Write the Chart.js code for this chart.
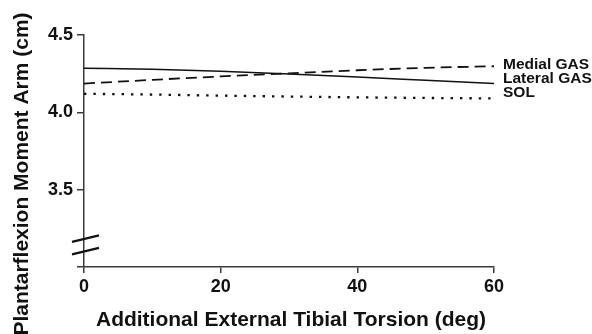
<!DOCTYPE html>
<html>
<head>
<meta charset="utf-8">
<script src="https://cdn.jsdelivr.net/npm/chart.js@4.4.1/dist/chart.umd.min.js"></script>
<style>
  body { margin: 0; background: #fff; }
  #wrap { width: 592px; height: 334px; }
</style>
</head>
<body>
<div id="wrap"><canvas id="myChart" width="592" height="334"></canvas></div>
<script>
const torsion = [0, 10, 20, 30, 40, 50, 60];
const medialGas = [4.186, 4.21, 4.232, 4.252, 4.272, 4.288, 4.298];
const lateralGas = [4.285, 4.278, 4.265, 4.248, 4.228, 4.207, 4.186];
const sol = [4.12, 4.115, 4.108, 4.102, 4.097, 4.093, 4.09];
const seriesNames = ["Medial GAS", "Lateral GAS", "SOL"];
const xTickValues = [0, 20, 40, 60];
const yTickValues = [3.5, 4.0, 4.5];

const ctx = document.getElementById("myChart").getContext("2d");
const FONT = "'Liberation Sans', Arial, sans-serif";
const INK = "#111";
const AXIS = "#3a3a3a";

const toPoints = (ys) => torsion.map((x, i) => ({ x: x, y: ys[i] }));

// axis titles, break mark and end labels
const extras = {
    id: "extras",
    afterDraw(chart) {
        const c = chart.ctx;
        const xs = chart.scales.x;
        const ys = chart.scales.y;
        c.save();

        // axis break on the y axis
        c.strokeStyle = INK;
        c.lineWidth = 2.2;
        [3.185, 3.104].forEach((v) => {
            const py = ys.getPixelForValue(v);
            c.beginPath();
            c.moveTo(xs.left - 12, py + 3.5);
            c.lineTo(xs.left + 15, py - 3);
            c.stroke();
        });

        // series names at the right end of each line
        c.fillStyle = INK;
        c.font = "bold 15.5px " + FONT;
        c.textAlign = "left";
        c.textBaseline = "middle";
        const offsets = [-2, -5, -6];
        chart.data.datasets.forEach((ds, i) => {
            const last = ds.data[ds.data.length - 1];
            c.fillText(seriesNames[i], xs.getPixelForValue(last.x) + 9, ys.getPixelForValue(last.y) + offsets[i]);
        });

        // axis titles
        c.font = "bold 21px " + FONT;
        c.textAlign = "center";
        c.fillText("Additional External Tibial Torsion (deg)", 291, 320);
        c.translate(22, 174);
        c.rotate(-Math.PI / 2);
        c.fillText("Plantarflexion Moment Arm (cm)", 0, 0);
        c.restore();
    }
};

const data = {
    datasets: [
        {
            label: seriesNames[0],
            data: toPoints(medialGas),
            borderColor: INK,
            borderWidth: 1.8,
            borderDash: [11, 6],
            cubicInterpolationMode: "monotone",
        },
        {
            label: seriesNames[1],
            data: toPoints(lateralGas),
            borderColor: INK,
            borderWidth: 1.5,
            cubicInterpolationMode: "monotone",
        },
        {
            label: seriesNames[2],
            data: toPoints(sol),
            borderColor: INK,
            borderWidth: 2.3,
            borderDash: [2.4, 7],
            cubicInterpolationMode: "monotone",
        },
    ],
};

const config = {
    type: "line",
    data: data,
    plugins: [extras],
    options: {
        responsive: false,
        animation: false,
        layout: { padding: { top: 35, right: 98, left: 0, bottom: 0 } },
        plugins: {
            legend: { display: false },
            tooltip: { enabled: false },
        },
        elements: { point: { radius: 0 } },
        scales: {
            x: {
                type: "linear",
                min: 0,
                max: 60,
                afterBuildTicks: (scale) => {
                    scale.ticks = xTickValues.map((v) => ({ value: v }));
                },
                afterFit: (scale) => { scale.height = 67; },
                border: { display: true, color: AXIS, width: 1.5 },
                grid: { drawOnChartArea: false, drawTicks: true, tickLength: 6, color: AXIS, lineWidth: 1.5 },
                ticks: {
                    color: INK,
                    padding: 3,
                    maxRotation: 0,
                    font: { family: FONT, size: 18, weight: "bold" },
                },
            },
            y: {
                min: 3,
                max: 4.5,
                afterBuildTicks: (scale) => {
                    scale.ticks = [3].concat(yTickValues).map((v) => ({ value: v }));
                },
                afterFit: (scale) => { scale.width = 84; },
                border: { display: true, color: AXIS, width: 1.5 },
                grid: { drawOnChartArea: false, drawTicks: true, tickLength: 7, color: AXIS, lineWidth: 1.5 },
                ticks: {
                    color: INK,
                    padding: 4,
                    font: { family: FONT, size: 18, weight: "bold" },
                    callback: function (value) {
                        return yTickValues.includes(value) ? value.toFixed(1) : "";
                    },
                },
            },
        },
    },
};

const myChart = new Chart(ctx, config);
</script>
</body>
</html>
